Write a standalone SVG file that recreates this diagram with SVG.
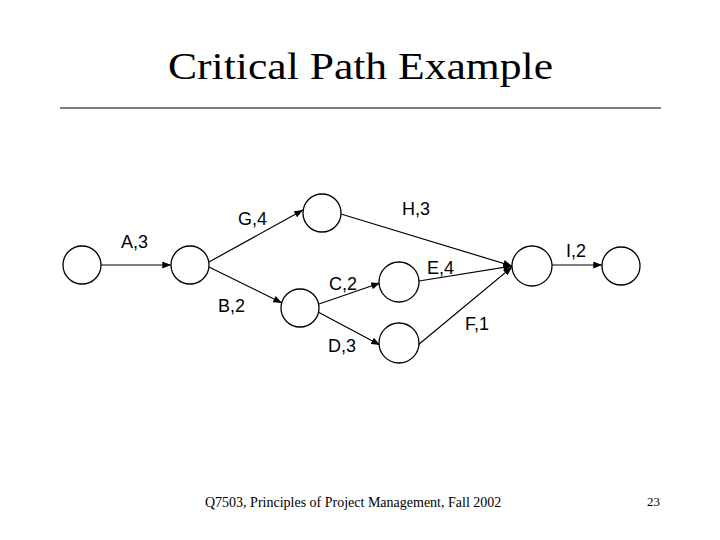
<svg xmlns="http://www.w3.org/2000/svg" width="720" height="540" viewBox="0 0 720 540">
<style>
.n{fill:#fff;stroke:#000;stroke-width:1.3}
.e{stroke:#000;stroke-width:1.2;fill:none;marker-end:url(#ah)}
.l{font-family:"Liberation Sans",Arial,sans-serif;font-size:18px;fill:#000}
.t{font-family:"Liberation Serif","Times New Roman",serif;fill:#000}
</style>
<defs>
<marker id="ah" viewBox="0 0 10 8" refX="10" refY="4" markerWidth="9" markerHeight="7" markerUnits="userSpaceOnUse" orient="auto">
<path d="M0,0 L10,4 L0,8 z" fill="#000"/>
</marker>
</defs>
<rect width="720" height="540" fill="#fff"/>
<text class="t" x="168" y="79" font-size="37" textLength="385" lengthAdjust="spacingAndGlyphs">Critical Path Example</text>
<line x1="60" y1="108" x2="661" y2="108" stroke="#000" stroke-width="1.2"/>
<g id="connectors">
<line class="e" x1="101" y1="265" x2="171" y2="265"/>
<line class="e" x1="209" y1="262" x2="303" y2="210"/>
<line class="e" x1="209" y1="267" x2="282" y2="303"/>
<line class="e" x1="341" y1="214" x2="512" y2="266"/>
<line class="e" x1="319" y1="304" x2="380" y2="283"/>
<line class="e" x1="318" y1="312" x2="380" y2="345"/>
<line class="e" x1="419" y1="281" x2="512" y2="266" stroke-width="1.6"/>
<line class="e" x1="418" y1="345" x2="512" y2="267"/>
<line class="e" x1="552" y1="265" x2="602" y2="265"/>
</g>
<g id="n1"><circle class="n" cx="82" cy="265" r="19"/></g>
<g id="n2"><circle class="n" cx="190" cy="265" r="19"/></g>
<g id="n3"><circle class="n" cx="322" cy="213" r="19"/></g>
<g id="n4"><circle class="n" cx="300" cy="308" r="19"/></g>
<g id="n5"><circle class="n" cx="399" cy="282" r="20"/></g>
<g id="n6"><circle class="n" cx="399" cy="343" r="20"/></g>
<g id="n7"><circle class="n" cx="532" cy="266" r="20"/></g>
<g id="n8"><circle class="n" cx="621" cy="266" r="19"/></g>
<g id="labels">
<text class="l" x="121" y="248">A,3</text>
<text class="l" x="238" y="225">G,4</text>
<text class="l" x="218" y="312">B,2</text>
<text class="l" x="402" y="215">H,3</text>
<text class="l" x="427" y="274">E,4</text>
<text class="l" x="329" y="290">C,2</text>
<text class="l" x="328" y="352">D,3</text>
<text class="l" x="465" y="330">F,1</text>
<text class="l" x="566" y="257">I,2</text>
</g>
<text class="t" x="205" y="507" font-size="14">Q7503, Principles of Project Management, Fall 2002</text>
<text class="t" x="647" y="506" font-size="13">23</text>
</svg>
